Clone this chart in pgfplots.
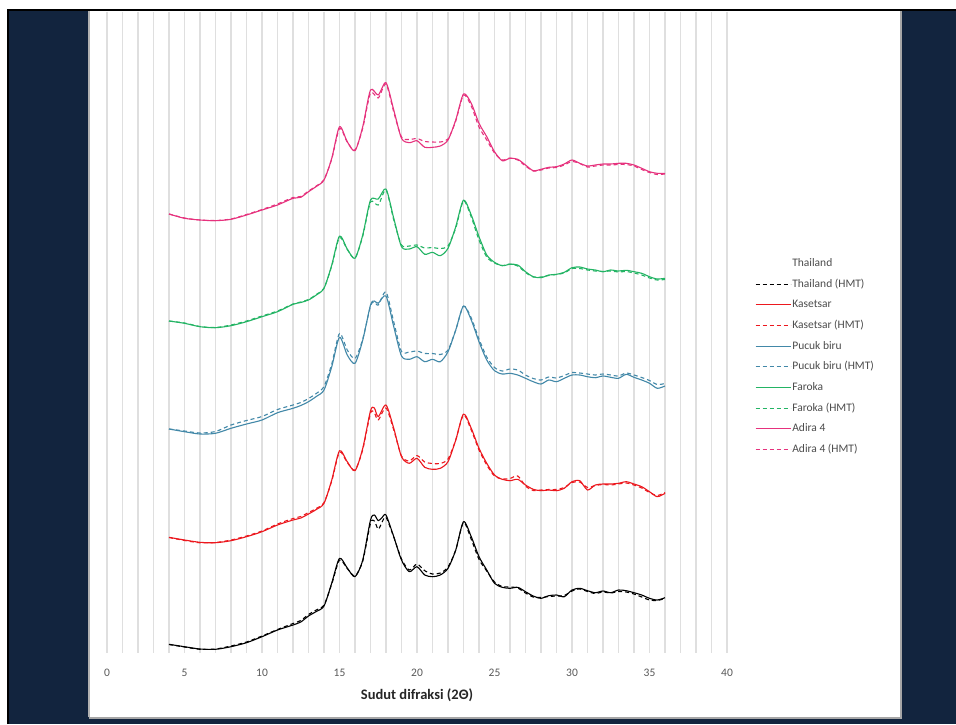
\documentclass[border=0pt]{standalone}
\usepackage{fontspec}
\setmainfont{Carlito}
\usepackage{pgfplots}
\pgfplotsset{compat=1.18}
\definecolor{navy}{RGB}{18,36,62}
\definecolor{kred}{RGB}{236,24,30}
\definecolor{kblue}{RGB}{66,136,168}
\definecolor{kgreen}{RGB}{35,180,100}
\definecolor{kpink}{RGB}{230,50,125}
\begin{document}
\begin{tikzpicture}
\useasboundingbox (0,0) rectangle (956pt,724pt);
\fill[white] (0,0) rectangle (956pt,724pt);
\fill[navy] (8pt,0) rectangle (956pt,714pt);
\draw[black, line width=2pt] (8pt,0) -- (8pt,714pt) -- (956pt,714pt);
\fill[white] (89pt,7pt) rectangle (900pt,712.5pt);
\draw[gray!70, line width=2pt] (89pt,6.5pt) -- (900.5pt,6.5pt) -- (900.5pt,712.5pt);
\draw[gray!60, line width=1.2pt] (89pt,7pt) -- (89pt,712.5pt);
\begin{axis}[
  at={(417pt,391.5pt)}, anchor=center,
  scale only axis, width=620pt, height=641.6pt,
  xmin=0, xmax=40, ymin=11.7, ymax=653.3, y dir=reverse,
  axis line style={draw=none},
  xtick={0,5,...,40}, minor xtick={1,...,39},
  xmajorgrids, xminorgrids,
  major grid style={gray!25, line width=1.3pt},
  minor grid style={gray!25, line width=1.3pt},
  ytick=\empty,
  major tick length=0pt, minor tick length=0pt,
  tick label style={font=\fontsize{11.5}{13}\selectfont, text=black!65},
  /pgf/number format/assume math mode=true,
  xticklabel style={anchor=base, yshift=-23.4pt},
  xlabel={Sudut difraksi (2Θ)},
  xlabel style={at={(axis description cs:0.5,0)}, anchor=base, yshift=-46pt, font=\bfseries\fontsize{14.5}{16}\selectfont, text=black!85},
  legend cell align=left,
  legend style={draw=none, fill=none, at={(axis description cs:1.045,0.618)}, anchor=north west,
    font=\fontsize{11.5}{13}\selectfont, inner sep=0pt, row sep=7.67pt,
    nodes={inner sep=1pt, text height=8.5pt, text depth=2.5pt, text=black!70},
    /tikz/every even column/.append style={column sep=3pt}},
  legend image code/.code={\draw[line width=1.2pt,#1] (0pt,0pt) -- (35pt,0pt);},
  every axis plot/.append style={line width=1.1pt, line join=round, smooth, tension=0.45},
  hmt/.style={dash pattern=on 4pt off 3pt},
]
% Thailand
\addplot[black, forget plot] coordinates {
(4,644.3)(5,646.7)(6,649)(7,649.3)(8,646.7)(9,642.7)(10,636.7)(11,630)(12,625)(12.5,622)(13,616)(13.5,611.5)(14,606)(14.5,583)(15,558.3)(15.5,568)(16,576.7)(16.5,560)(17,520)(17.25,515)(17.5,520.7)(17.75,517.5)(18,515)(18.5,536.7)(19,560)(19.5,571.7)(20,566.7)(20.5,575)(21,576.7)(21.5,575)(22,568.3)(22.5,550)(23,521.7)(23.5,536.7)(24,556.7)(24.5,570)(25,583.3)(25.5,587.3)(26,588.3)(26.5,587.3)(27,591.7)(27.5,596)(28,598.3)(28.5,595.7)(29,595)(29.5,596.7)(30,590)(30.5,588.3)(31,590.7)(31.5,592.7)(32,591)(32.5,592.7)(33,590)(33.5,590.7)(34,592.7)(34.5,595)(35,598.3)(35.5,600)(36,597.7)};
\addplot[black, hmt, forget plot] coordinates {
(4,644.5)(5,647)(6,649.3)(7,649)(8,646)(9,642)(10,636)(11,629.5)(12,623.5)(12.5,620.5)(13,614.5)(13.5,610)(14,605)(14.5,584)(15,560)(15.5,568.5)(16,576)(16.5,561)(17,523.3)(17.25,521)(17.5,529.3)(17.75,522)(18,517.3)(18.5,537)(19,559)(19.5,570)(20,564)(20.5,570.7)(21,574)(21.5,573)(22,567)(22.5,550)(23,522.5)(23.5,539.3)(24,559.3)(24.5,571)(25,582)(25.5,586.5)(26,587)(26.5,588)(27,593)(27.5,597)(28,597.5)(28.5,596.5)(29,596)(29.5,595.5)(30,591)(30.5,589)(31,591.5)(31.5,593.5)(32,592)(32.5,593)(33,591.5)(33.5,592)(34,594)(34.5,597)(35,600)(35.5,600.5)(36,598.5)};
% Kasetsar
\addplot[kred, forget plot] coordinates {
(4,537.3)(5,540)(6,542.3)(7,542.7)(8,540.7)(9,536.7)(10,531.7)(11,525)(12,520)(12.5,518)(13,514)(13.5,509.5)(14,503.3)(14.5,480)(15,450.7)(15.5,461.7)(16,470.7)(16.5,448.3)(17,410.7)(17.25,408)(17.5,416.7)(18,405)(18.5,428.3)(19,456.7)(19.5,463.3)(20,458.3)(20.5,467.3)(21,469.3)(21.5,468.3)(22,461.7)(22.5,440)(23,414)(23.5,428.3)(24,448.3)(24.5,463.3)(25,475)(25.5,479.3)(26,480.7)(26.5,479.3)(27,485)(27.5,489.3)(28,490.7)(28.5,490)(29,490.7)(29.5,488.3)(30,481.7)(30.5,480.7)(31,490)(31.5,485)(32,484)(32.5,484)(33,483.3)(33.5,481.7)(34,484)(34.5,486.7)(35,491.7)(35.5,496.7)(36,493.3)};
\addplot[kred, hmt, forget plot] coordinates {
(4,537.5)(5,540.5)(6,542.8)(7,542.5)(8,540)(9,536)(10,531)(11,524)(12,518.5)(12.5,516.5)(13,512.5)(13.5,508.5)(14,502.5)(14.5,481)(15,452)(15.5,462.5)(16,470)(16.5,449.5)(17,413)(17.25,413)(17.5,420)(18,408)(18.5,430)(19,456)(19.5,461)(20,455.5)(20.5,462)(21,463.5)(21.5,463.5)(22,459)(22.5,440)(23,415)(23.5,430)(24,450)(24.5,465)(25,476)(25.5,479)(26,478.5)(26.5,476)(27,486)(27.5,490.5)(28,490)(28.5,489.5)(29,489.5)(29.5,487.5)(30,482.5)(30.5,482)(31,487.5)(31.5,485.5)(32,484.5)(32.5,485)(33,484)(33.5,483)(34,485)(34.5,488)(35,492.5)(35.5,495.5)(36,492.5)};
% Pucuk biru
\addplot[kblue, forget plot] coordinates {
(4,429)(5,431.7)(6,434)(7,433.3)(8,428.3)(9,424)(10,420)(11,412.7)(12,408.3)(12.5,405.5)(13,401.7)(13.5,396.5)(14,390)(14.5,366.7)(15,337.3)(15.5,355)(16,363.3)(16.5,340)(17,305)(17.25,301)(17.5,303.3)(18,296)(18.5,326.7)(19,356)(19.5,359.3)(20,356.7)(20.5,361.7)(21,359.3)(21.5,361.7)(22,351.7)(22.5,330)(23,306)(23.5,320)(24,341.7)(24.5,360)(25,370.7)(25.5,374)(26,373.3)(26.5,375)(27,378.3)(27.5,381.7)(28,384)(28.5,380)(29,381.7)(29.5,378.3)(30,375)(30.5,375)(31,376.7)(31.5,377.7)(32,376)(32.5,377.3)(33,378.3)(33.5,374.3)(34,377.3)(34.5,380)(35,383.3)(35.5,388.3)(36,386)};
\addplot[kblue, hmt, forget plot] coordinates {
(4,429)(5,431)(6,433)(7,431.5)(8,425)(9,420.5)(10,416.5)(11,409.5)(12,405)(12.5,402.5)(13,398.5)(13.5,393.5)(14,386.5)(14.5,364)(15,333.5)(15.5,350)(16,358.5)(16.5,339)(17,306)(17.25,302)(17.5,305)(18,292)(18.5,322)(19,351.5)(19.5,352)(20,351)(20.5,353.5)(21,353.5)(21.5,354.5)(22,350)(22.5,330)(23,306)(23.5,318)(24,339)(24.5,357)(25,367.5)(25.5,371)(26,369)(26.5,370)(27,375)(27.5,378.5)(28,380)(28.5,377)(29,378)(29.5,375.5)(30,372.5)(30.5,373)(31,374)(31.5,375)(32,374)(32.5,375)(33,376)(33.5,373)(34,375)(34.5,377.5)(35,380.5)(35.5,384.5)(36,383.5)};
% Faroka
\addplot[kgreen, forget plot] coordinates {
(4,321)(5,323.3)(6,326.7)(7,327.7)(8,325.7)(9,321.7)(10,316.7)(11,311.7)(12,304.3)(12.5,302.5)(13,300)(13.5,295)(14,288.3)(14.5,265)(15,236)(15.5,249)(16,258.3)(16.5,235)(17,200)(17.5,199)(18,189)(18.5,218.3)(19,246.7)(19.5,249)(20,246.7)(20.5,254.3)(21,252.3)(21.5,255.7)(22,248.3)(22.5,226.7)(23,200)(23.5,215)(24,236.7)(24.5,255)(25,262.3)(25.5,265.7)(26,264.3)(26.5,265)(27,271.7)(27.5,276.7)(28,277.7)(28.5,275)(29,274.3)(29.5,272.3)(30,267.7)(30.5,267)(31,269)(31.5,270)(32,271.7)(32.5,270)(33,271)(33.5,270.3)(34,271.7)(34.5,273.3)(35,276.7)(35.5,279)(36,278.3)};
\addplot[kgreen, hmt, forget plot] coordinates {
(4,321)(5,323)(6,326.5)(7,327.5)(8,325)(9,321)(10,316)(11,311)(12,304)(12.5,302)(13,299.5)(13.5,294.5)(14,288)(14.5,266)(15,237.5)(15.5,249.5)(16,258)(16.5,236)(17,202)(17.5,205)(18,190)(18.5,220)(19,245)(19.5,246)(20,245)(20.5,248)(21,247.5)(21.5,248.5)(22,246)(22.5,228)(23,201)(23.5,217)(24,240)(24.5,257)(25,263)(25.5,265.5)(26,264)(26.5,266)(27,272.5)(27.5,277)(28,277)(28.5,275.5)(29,274.5)(29.5,273)(30,268.5)(30.5,268.5)(31,270)(31.5,271)(32,271.5)(32.5,271)(33,272)(33.5,271.5)(34,273)(34.5,275)(35,278)(35.5,280)(36,279.5)};
% Adira 4
\addplot[kpink, forget plot] coordinates {
(4,214)(5,218.3)(6,220)(7,220.7)(8,219.3)(9,215)(10,210)(11,205)(12,198.3)(12.5,197.3)(13,191.7)(13.5,186.5)(14,180)(14.5,158.3)(15,126.7)(15.5,141.7)(16,150.7)(16.5,126.7)(17,90)(17.5,95)(18,82.7)(18.5,110)(19,138.3)(19.5,142.7)(20,140.7)(20.5,147.3)(21,147.3)(21.5,146)(22,140)(22.5,120)(23,94)(23.5,103.3)(24,123.3)(24.5,136.7)(25,151.7)(25.5,160.7)(26,158.3)(26.5,159.3)(27,165)(27.5,170.7)(28,169.3)(28.5,167.3)(29,166.7)(29.5,164)(30,160)(30.5,163.3)(31,166)(31.5,165)(32,164)(32.5,164)(33,163.3)(33.5,163.3)(34,165)(34.5,168.3)(35,171.7)(35.5,173.3)(36,173.3)};
\addplot[kpink, hmt, forget plot] coordinates {
(4,214)(5,218)(6,220)(7,220.5)(8,219)(9,214.5)(10,209.5)(11,204)(12,197.5)(12.5,196.5)(13,191)(13.5,186)(14,179.5)(14.5,159)(15,128.5)(15.5,142)(16,150)(16.5,128)(17,93)(17.5,98)(18,84)(18.5,112)(19,137)(19.5,139.5)(20,138.5)(20.5,141.5)(21,142)(21.5,142)(22,139)(22.5,121)(23,95)(23.5,106)(24,127)(24.5,140)(25,153)(25.5,160)(26,158)(26.5,160)(27,166)(27.5,171)(28,170)(28.5,168)(29,167.5)(29.5,165)(30,161.5)(30.5,163.5)(31,167)(31.5,166)(32,165)(32.5,165)(33,164.5)(33.5,164.5)(34,166)(34.5,169.5)(35,172.5)(35.5,174.5)(36,174)};
% legend
\addlegendimage{empty legend}\addlegendentry{Thailand}
\addlegendimage{black, hmt}\addlegendentry{Thailand (HMT)}
\addlegendimage{kred}\addlegendentry{Kasetsar}
\addlegendimage{kred, hmt}\addlegendentry{Kasetsar (HMT)}
\addlegendimage{kblue}\addlegendentry{Pucuk biru}
\addlegendimage{kblue, hmt}\addlegendentry{Pucuk biru (HMT)}
\addlegendimage{kgreen}\addlegendentry{Faroka}
\addlegendimage{kgreen, hmt}\addlegendentry{Faroka (HMT)}
\addlegendimage{kpink}\addlegendentry{Adira 4}
\addlegendimage{kpink, hmt}\addlegendentry{Adira 4 (HMT)}
\end{axis}
\end{tikzpicture}
\end{document}
